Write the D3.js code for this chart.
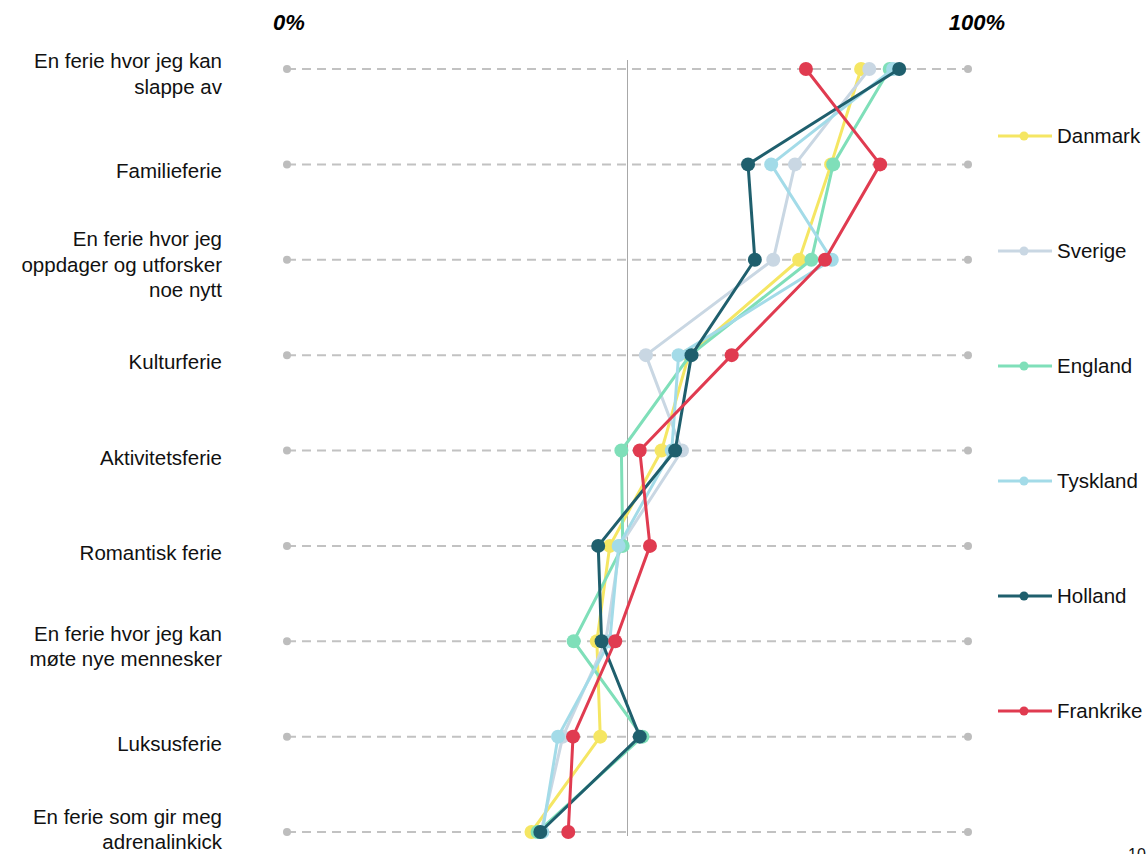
<!DOCTYPE html>
<html>
<head>
<meta charset="utf-8">
<script src="https://cdn.jsdelivr.net/npm/d3@7"></script>
<style>
  body { margin: 0; background: #fff; }
  svg { display: block; font-family: Arial, "Liberation Sans", sans-serif; }
</style>
</head>
<body>
<div id="chart"></div>
<script>
// categories top to bottom (label lines split by |)
const categories = [
  "En ferie hvor jeg kan|slappe av",
  "Familieferie",
  "En ferie hvor jeg|oppdager og utforsker|noe nytt",
  "Kulturferie",
  "Aktivitetsferie",
  "Romantisk ferie",
  "En ferie hvor jeg kan|møte nye mennesker",
  "Luksusferie",
  "En ferie som gir meg|adrenalinkick"
];

const countries = ["Danmark", "Sverige", "England", "Tyskland", "Holland", "Frankrike"];
const colors = ["#f5e663", "#c9d7e3", "#7fdfb9", "#a3dbe8", "#1f5f6d", "#e03b50"];

// share (%) per category
const danmark   = [84.3, 79.9, 75.2, 59.0, 55.0, 47.4, 45.5, 46.0, 35.9];
const sverige   = [85.5, 74.6, 71.4, 52.7, 58.0, 48.9, 46.8, 40.5, 37.3];
const england   = [88.5, 80.2, 77.0, 59.2, 49.1, 49.3, 42.1, 52.2, 36.8];
const tyskland  = [89.0, 71.1, 80.0, 57.5, 56.5, 48.7, 47.4, 39.8, 37.5];
const holland   = [89.9, 67.7, 68.7, 59.4, 57.0, 45.7, 46.2, 51.8, 37.2];
const frankrike = [76.2, 87.1, 79.0, 65.3, 51.8, 53.3, 48.2, 42.0, 41.3];

const series = [danmark, sverige, england, tyskland, holland, frankrike];

const width = 1147, height = 854;

const x = d3.scaleLinear().domain([0, 100]).range([287, 968]);
const y = d3.scalePoint().domain(d3.range(categories.length)).range([69, 832]);

const svg = d3.select("#chart").append("svg")
  .attr("width", width)
  .attr("height", height);

// header labels
svg.append("text")
  .attr("x", x(0) + 2).attr("y", 30)
  .attr("text-anchor", "middle")
  .style("font-size", "22px").style("font-weight", "bold").style("font-style", "italic")
  .text("0%");
svg.append("text")
  .attr("x", x(100) + 9).attr("y", 30)
  .attr("text-anchor", "middle")
  .style("font-size", "22px").style("font-weight", "bold").style("font-style", "italic")
  .text("100%");

// midline
svg.append("line")
  .attr("x1", x(50)).attr("x2", x(50))
  .attr("y1", 60).attr("y2", 836)
  .attr("stroke", "#a8a8a8").attr("stroke-width", 1);

// dashed rows
const rows = svg.append("g");
categories.forEach((c, i) => {
  rows.append("line")
    .attr("x1", x(0)).attr("x2", x(100))
    .attr("y1", y(i)).attr("y2", y(i))
    .attr("stroke", "#c2c2c2").attr("stroke-width", 2)
    .attr("stroke-dasharray", "9,6");
  [0, 100].forEach(v => {
    rows.append("circle")
      .attr("cx", x(v)).attr("cy", y(i)).attr("r", 4)
      .attr("fill", "#bdbdbd");
  });
});

// category labels
const lineH = 25.5;
categories.forEach((c, i) => {
  const parts = c.split("|");
  const t = svg.append("text")
    .attr("text-anchor", "end")
    .style("font-size", "20.5px")
    .attr("fill", "#111");
  let y0 = parts.length == 1 ? y(i) + 14 : y(i) + 12 - (parts.length - 1) * lineH / 2;
  // keep the last line inside the page
  y0 = Math.min(y0, height - 5 - (parts.length - 1) * lineH);
  parts.forEach((p, k) => {
    t.append("tspan").attr("x", 222).attr("y", y0 + k * lineH).text(p);
  });
});

// series lines + dots
const line = d3.line()
  .x(d => x(d))
  .y((d, i) => y(i));

series.forEach((vals, s) => {
  const g = svg.append("g");
  g.append("path")
    .datum(vals)
    .attr("d", line)
    .attr("fill", "none")
    .attr("stroke", colors[s])
    .attr("stroke-width", 3)
    .attr("stroke-linejoin", "round");
  g.selectAll("circle")
    .data(vals)
    .join("circle")
    .attr("cx", d => x(d))
    .attr("cy", (d, i) => y(i))
    .attr("r", 7)
    .attr("fill", colors[s]);
});

// legend
const legY = d3.scalePoint().domain(countries).range([136, 711]);
countries.forEach((c, s) => {
  const ly = legY(c);
  svg.append("line")
    .attr("x1", 998).attr("x2", 1052)
    .attr("y1", ly).attr("y2", ly)
    .attr("stroke", colors[s]).attr("stroke-width", 3);
  svg.append("circle")
    .attr("cx", 1024).attr("cy", ly).attr("r", 4.5)
    .attr("fill", colors[s]);
  svg.append("text")
    .attr("x", 1057).attr("y", ly + 7)
    .style("font-size", "20.5px")
    .attr("fill", "#111")
    .text(c);
});

// page number (cut off at the edge)
svg.append("text")
  .attr("x", 1128).attr("y", 860)
  .style("font-size", "16px")
  .attr("fill", "#111")
  .text("10");
</script>
</body>
</html>
